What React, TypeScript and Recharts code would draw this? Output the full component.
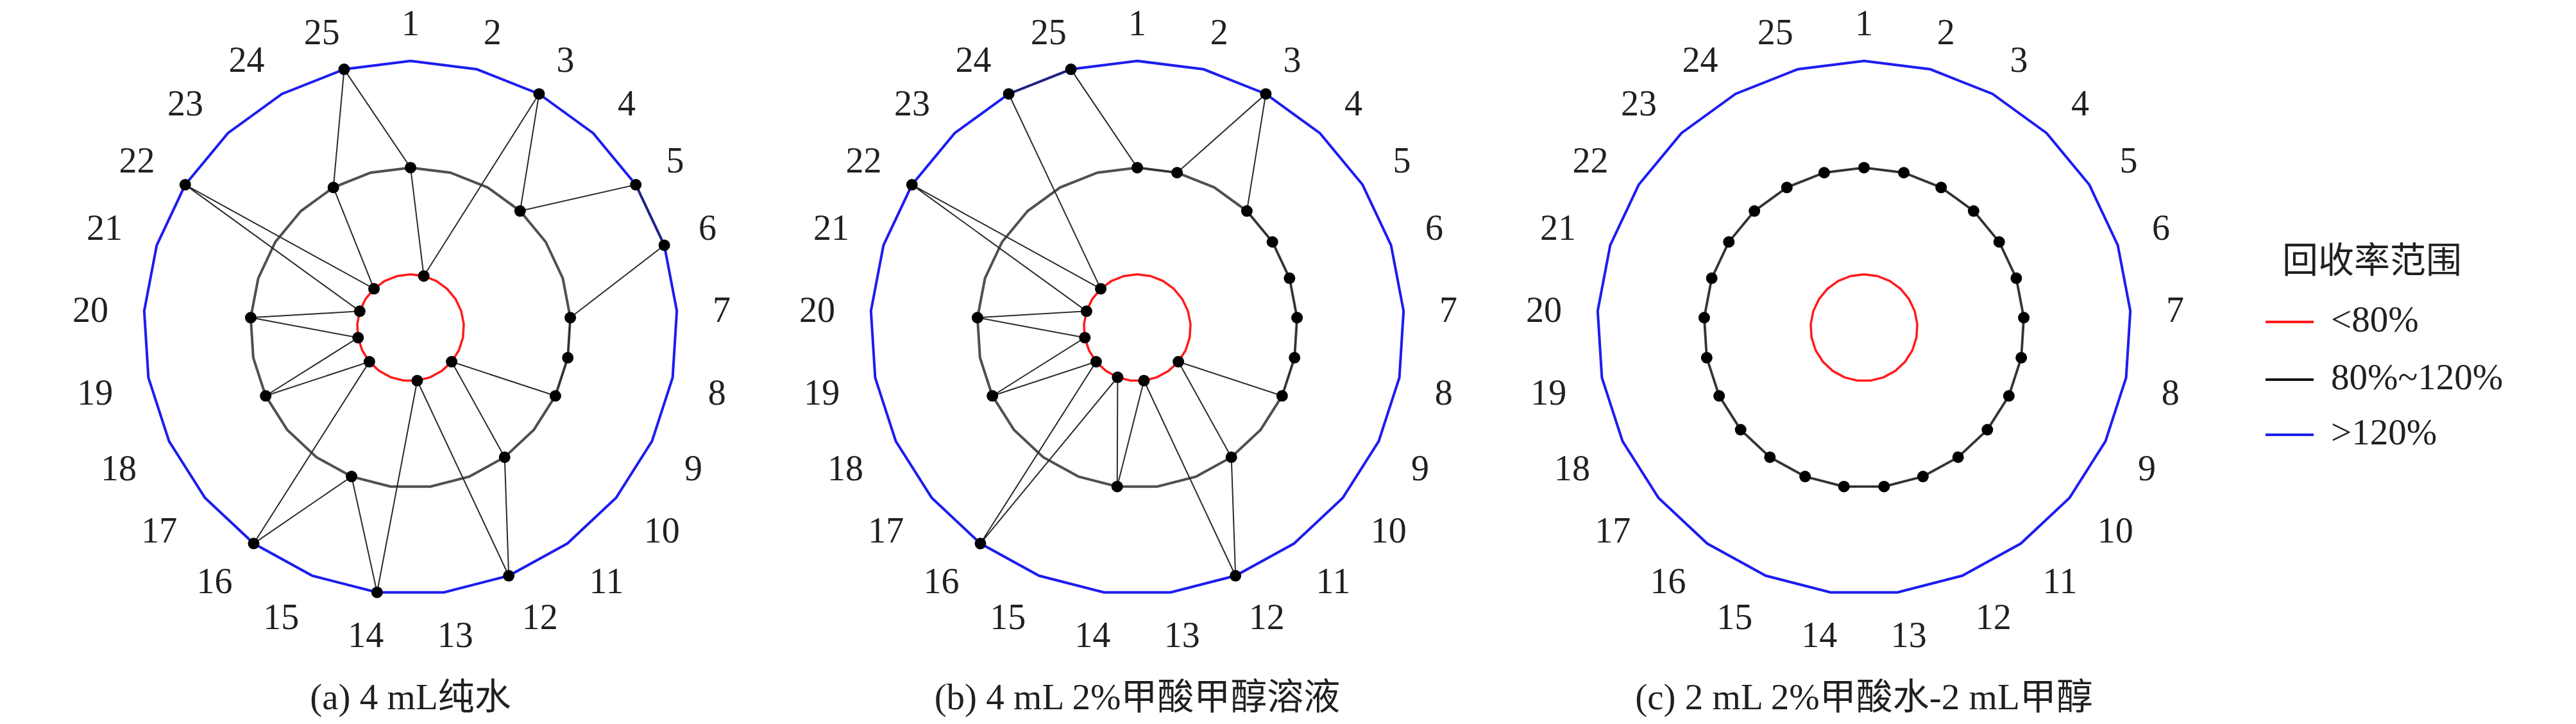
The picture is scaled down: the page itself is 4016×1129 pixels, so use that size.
import { RadarChart, Radar, PolarAngleAxis, PolarRadiusAxis } from 'recharts';

// category ids around each wheel, clockwise from the top
const categories = [
  '1', '2', '3', '4', '5', '6', '7', '8', '9', '10', '11', '12', '13',
  '14', '15', '16', '17', '18', '19', '20', '21', '22', '23', '24', '25',
];

// recovery band per compound: 1 = <80%, 3 = 80%~120%, 5 = >120%
const pureWater = [3, 1, 5, 3, 5, 5, 3, 3, 3, 1, 3, 5, 1, 5, 3, 5, 1, 3, 1, 3, 1, 5, 1, 3, 5];
const formicMethanol = [3, 3, 5, 3, 3, 3, 3, 3, 3, 1, 3, 5, 1, 3, 1, 5, 1, 3, 1, 3, 1, 5, 1, 5, 5];
const formicWaterMethanol = [3, 3, 3, 3, 3, 3, 3, 3, 3, 3, 3, 3, 3, 3, 3, 3, 3, 3, 3, 3, 3, 3, 3, 3, 3];

// reference rings
const lowBand = 1;
const midBand = 3;
const highBand = 5;

const panelTitles = ['(a) 4 mL纯水', '(b) 4 mL 2%甲酸甲醇溶液', '(c) 2 mL 2%甲酸水-2 mL甲醇'];
const panelSeries = [pureWater, formicMethanol, formicWaterMethanol];

const legendLabels = ['<80%', '80%~120%', '>120%'];

const SERIF = "'Times New Roman', 'Liberation Serif', 'Noto Sans CJK SC', serif";
const RED = '#ff1a1a';
const GREY = '#505050';
const BLUE = '#1c1cf0';

const W = 1132;
const H = 1129;
const CX = 566;
const CY = 511;
const OUTER = 416;
const LABEL_RX = 472;
const LABEL_RY = 460;
const PANEL_CENTERS = [640, 1773, 2906];

const clamp = (v: number) => Math.max(-1, Math.min(1, v));

// put each number just outside the wheel, box corner facing the centre
function CategoryTick(props: any) {
  const { x, y, payload } = props;
  const dx = x - CX;
  const dy = y - CY;
  const len = Math.hypot(dx, dy) || 1;
  const ux = dx / len;
  const uy = dy / len;
  const label = String(payload.value);
  const hw = label.length * 14;
  const hh = 19;
  const px = CX + ux * LABEL_RX + clamp(ux * 3) * hw;
  const py = CY + 4 + uy * LABEL_RY + clamp(uy * 3) * hh;
  return (
    <text
      x={px}
      y={py}
      textAnchor="middle"
      dominantBaseline="central"
      fontFamily={SERIF}
      fontSize={56}
      fill="#231f20"
    >
      {label}
    </text>
  );
}

function Wheel({ values, title, center }: { values: number[]; title: string; center: number }) {
  const data = categories.map((name, i) => ({
    name,
    low: lowBand,
    mid: midBand,
    high: highBand,
    value: values[i],
  }));
  return (
    <>
      <div style={{ position: 'absolute', left: center - CX, top: 0 }}>
        <RadarChart
          width={W}
          height={H}
          data={data}
          cx={CX}
          cy={CY}
          outerRadius={OUTER}
          margin={{ top: 0, right: 0, bottom: 0, left: 0 }}
        >
          <PolarAngleAxis dataKey="name" tickLine={false} axisLine={false} tick={CategoryTick} />
          <PolarRadiusAxis domain={[0, 5]} type="number" axisLine={false} tick={false} />
          <Radar dataKey="high" stroke={BLUE} strokeWidth={4} fill="none" dot={false} isAnimationActive={false} />
          <Radar dataKey="mid" stroke={GREY} strokeWidth={4} fill="none" dot={false} isAnimationActive={false} />
          <Radar dataKey="low" stroke={RED} strokeWidth={3.5} fill="none" dot={false} isAnimationActive={false} />
          <Radar
            dataKey="value"
            stroke="#2a2a2a"
            strokeWidth={2}
            fill="none"
            dot={{ r: 9, fill: '#000', stroke: 'none' }}
            isAnimationActive={false}
          />
        </RadarChart>
      </div>
      <div
        style={{
          position: 'absolute',
          left: center - 500,
          width: 1000,
          top: 1052,
          textAlign: 'center',
          fontFamily: SERIF,
          fontSize: 57,
          lineHeight: '70px',
          color: '#231f20',
          whiteSpace: 'nowrap',
        }}
      >
        {title}
      </div>
    </>
  );
}

function Legend() {
  const colors = [RED, '#111', BLUE];
  const rows = [502, 592, 678];
  return (
    <div style={{ position: 'absolute', left: 0, top: 0, fontFamily: SERIF, color: '#231f20' }}>
      <div style={{ position: 'absolute', left: 3558, top: 370, fontSize: 56, lineHeight: '72px', whiteSpace: 'nowrap' }}>
        回收率范围
      </div>
      {legendLabels.map((label, i) => (
        <div key={label}>
          <div
            style={{
              position: 'absolute',
              left: 3532,
              top: rows[i] - 2,
              width: 75,
              height: 4,
              background: colors[i],
            }}
          />
          <div
            style={{
              position: 'absolute',
              left: 3634,
              top: rows[i] - 44,
              fontSize: 57,
              lineHeight: '80px',
              whiteSpace: 'nowrap',
            }}
          >
            {label}
          </div>
        </div>
      ))}
    </div>
  );
}

export default function App() {
  return (
    <div style={{ position: 'absolute', left: 0, top: 0, width: 4016, height: 1129, background: '#fff', overflow: 'hidden' }}>
      {panelSeries.map((values, i) => (
        <Wheel key={i} values={values} title={panelTitles[i]} center={PANEL_CENTERS[i]} />
      ))}
      <Legend />
    </div>
  );
}
